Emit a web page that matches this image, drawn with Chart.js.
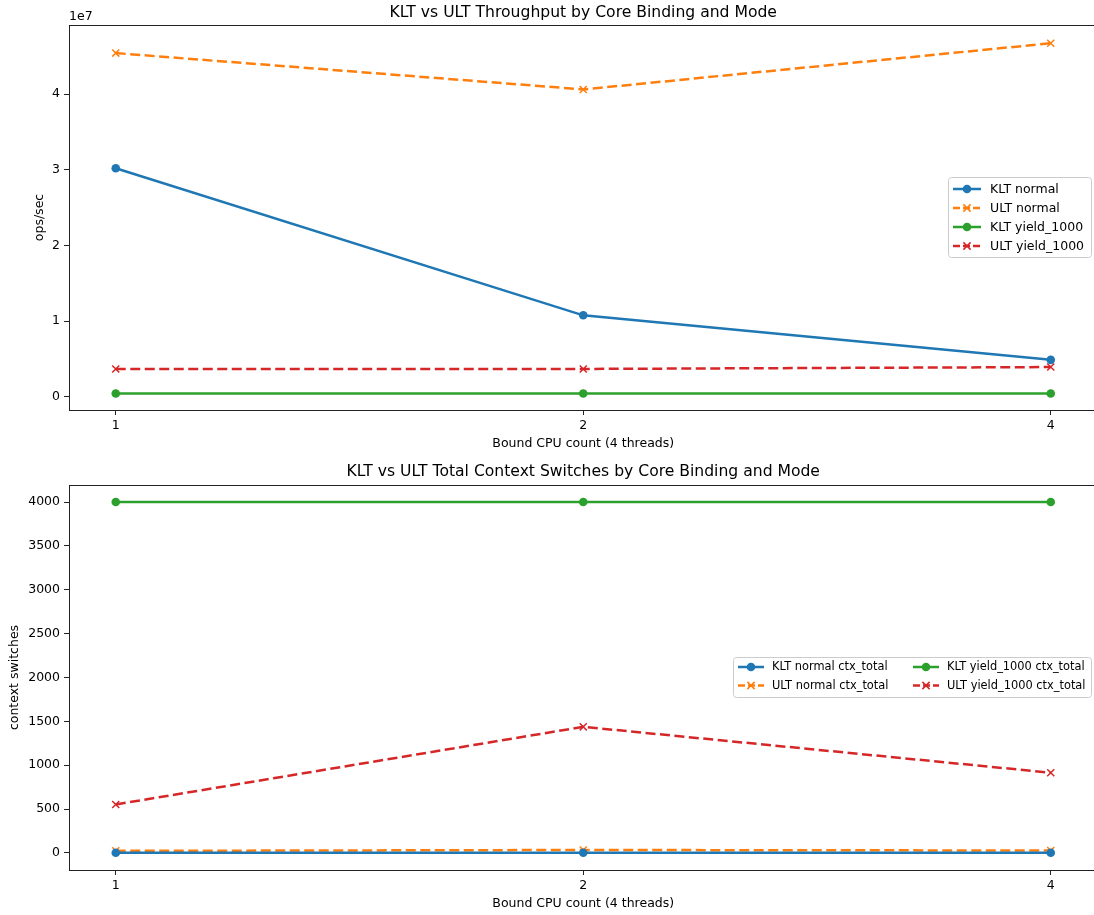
<!DOCTYPE html>
<html>
<head>
<meta charset="utf-8">
<script src="https://cdn.jsdelivr.net/npm/chart.js@4.4.1/dist/chart.umd.min.js"></script>
<style>
  html, body { margin: 0; padding: 0; background: #fff; overflow: hidden; }
  #wrap { position: relative; width: 1094px; height: 915px; overflow: hidden; }
  /* panes are a little wider than the page: the plot frame runs past its right edge */
  .pane { position: absolute; left: 0; width: 1104px; }
</style>
</head>
<body>
<div id="wrap">
  <div class="pane" style="top:0;height:457px"><canvas id="opsChart"></canvas></div>
  <div class="pane" style="top:457px;height:458px"><canvas id="ctxChart"></canvas></div>
</div>
<script>
// Bound CPU counts (x categories)
const cpuCounts = ['1', '2', '4'];

// Throughput (ops/sec)
const kltNormalOps = [3.02e7, 1.078e7, 0.49e7];
const ultNormalOps = [4.54e7, 4.06e7, 4.67e7];
const kltYieldOps  = [4.5e5, 4.5e5, 4.5e5];
const ultYieldOps  = [3.7e6, 3.7e6, 3.95e6];

// Total context switches
const kltNormalCtx = [3, 2, 3];
const ultNormalCtx = [24, 34, 28];
const kltYieldCtx  = [4000, 4000, 4000];
const ultYieldCtx  = [553, 1438, 915];

// Tick values
const opsTicks = [0, 1e7, 2e7, 3e7, 4e7];
const ctxTicks = [0, 500, 1000, 1500, 2000, 2500, 3000, 3500, 4000];

const BLUE = '#1f77b4', ORANGE = '#ff7f0e', GREEN = '#2ca02c', RED = '#d62728';
const FONT = 'DejaVu Sans';
const LW = 2.5;
const DASH = [10, 4.5];

function pts(arr) { return arr.map((v, i) => ({ x: i, y: v })); }

function series(label, values, color, marker) {
  const dashed = marker === 'x';
  return {
    label,
    data: pts(values),
    borderColor: color,
    backgroundColor: color,
    borderWidth: LW,
    borderDash: dashed ? DASH : [],
    borderCapStyle: 'butt',
    pointStyle: dashed ? 'crossRot' : 'circle',
    pointRadius: dashed ? 5 : 4.3,
    pointBorderWidth: dashed ? 1.5 : 0,
    pointBorderColor: color,
    pointBackgroundColor: color,
    pointHoverRadius: dashed ? 5 : 4.3,
    tension: 0,
    fill: false
  };
}

// Frame on all four sides of the plot area, title centred over it, optional offset text
const framePlugin = {
  id: 'frame',
  afterDraw(chart, args, opts) {
    const { ctx, chartArea: a } = chart;
    ctx.save();
    ctx.strokeStyle = '#222';
    ctx.lineWidth = 1;
    ctx.strokeRect(Math.round(a.left) + 0.5, Math.round(a.top) + 0.5,
                   Math.round(a.right - a.left) - 1, Math.round(a.bottom - a.top));
    ctx.fillStyle = '#000';
    if (opts.title) {
      ctx.font = '15.6px "' + FONT + '"';
      ctx.textAlign = 'center';
      ctx.textBaseline = 'middle';
      ctx.fillText(opts.title, (a.left + a.right) / 2, opts.titleY);
    }
    if (opts.offsetText) {
      ctx.font = '12.5px "' + FONT + '"';
      ctx.textAlign = 'left';
      ctx.textBaseline = 'bottom';
      ctx.fillText(opts.offsetText, a.left, a.top - 2);
    }
    ctx.restore();
  }
};

// Boxed legend drawn inside the plot area
const boxLegendPlugin = {
  id: 'boxLegend',
  afterDatasetsDraw(chart, args, o) {
    const ctx = chart.ctx;
    const ds = chart.data.datasets;
    ctx.save();
    ctx.font = o.fontSize + 'px "' + FONT + '"';
    const r = 3;
    const { x, y, w, h } = o.box;
    ctx.beginPath();
    ctx.moveTo(x + r, y);
    ctx.arcTo(x + w, y, x + w, y + h, r);
    ctx.arcTo(x + w, y + h, x, y + h, r);
    ctx.arcTo(x, y + h, x, y, r);
    ctx.arcTo(x, y, x + w, y, r);
    ctx.closePath();
    ctx.fillStyle = 'rgba(255,255,255,0.8)';
    ctx.fill();
    ctx.strokeStyle = '#cccccc';
    ctx.lineWidth = 1;
    ctx.stroke();
    ds.forEach((d, i) => {
      const col = Math.floor(i / o.rows);
      const row = i % o.rows;
      const ly = o.firstRowY + row * o.rowStep;
      const lx0 = o.colX[col];
      const lx1 = lx0 + o.lineLen;
      ctx.strokeStyle = d.borderColor;
      ctx.lineWidth = LW;
      ctx.lineCap = 'butt';
      ctx.setLineDash(d.borderDash.length ? [7, 3] : []);
      ctx.beginPath();
      ctx.moveTo(lx0, ly);
      ctx.lineTo(lx1, ly);
      ctx.stroke();
      ctx.setLineDash([]);
      const cx = (lx0 + lx1) / 2;
      if (d.pointStyle === 'circle') {
        ctx.fillStyle = d.borderColor;
        ctx.beginPath();
        ctx.arc(cx, ly, 4.3, 0, Math.PI * 2);
        ctx.fill();
      } else {
        const s = 3.6;
        ctx.lineWidth = 1.5;
        ctx.beginPath();
        ctx.moveTo(cx - s, ly - s); ctx.lineTo(cx + s, ly + s);
        ctx.moveTo(cx - s, ly + s); ctx.lineTo(cx + s, ly - s);
        ctx.stroke();
      }
      ctx.fillStyle = '#000';
      ctx.textAlign = 'left';
      ctx.textBaseline = 'middle';
      ctx.fillText(d.label, lx1 + o.textGap, ly + 0.5);
    });
    ctx.restore();
  }
};

function makeOptions(cfg) {
  return {
    responsive: true,
    maintainAspectRatio: false,
    animation: false,
    events: [],
    layout: { padding: { left: 0, right: 0, top: cfg.areaTop, bottom: 0 } },
    plugins: {
      legend: { display: false },
      tooltip: { enabled: false },
      title: { display: false },
      frame: { title: cfg.title, titleY: cfg.titleY, offsetText: cfg.offsetText || null },
      boxLegend: cfg.legend
    },
    scales: {
      x: {
        type: 'linear',
        min: -0.1,
        max: 2.1,
        afterBuildTicks(scale) { scale.ticks = [0, 1, 2].map(v => ({ value: v })); },
        afterFit(scale) {
          scale.height = cfg.xAxisHeight;
          scale.paddingLeft = 0;
          scale.paddingRight = 0;
        },
        ticks: {
          color: '#000',
          font: { family: FONT, size: 12.5 },
          padding: 3,
          maxRotation: 0,
          callback: (v) => cpuCounts[v]
        },
        grid: { drawOnChartArea: false, drawTicks: true, tickLength: 5, tickColor: '#222', tickWidth: 1 },
        border: { display: true, color: '#222', width: 1 },
        title: {
          display: true,
          text: 'Bound CPU count (4 threads)',
          color: '#000',
          font: { family: FONT, size: 12.5 },
          padding: { top: 0, bottom: cfg.xTitleBottom }
        }
      },
      y: {
        type: 'linear',
        min: cfg.yMin,
        max: cfg.yMax,
        afterBuildTicks(scale) { scale.ticks = cfg.yTicks.map(v => ({ value: v })); },
        afterFit(scale) {
          scale.width = 69;
          scale.paddingTop = 0;
          scale.paddingBottom = 0;
        },
        ticks: {
          color: '#000',
          font: { family: FONT, size: 12.5 },
          padding: 4,
          callback: cfg.yFormat
        },
        grid: { drawOnChartArea: false, drawTicks: true, tickLength: 5, tickColor: '#222', tickWidth: 1 },
        border: { display: true, color: '#222', width: 1 },
        title: {
          display: true,
          text: cfg.yTitle,
          color: '#000',
          font: { family: FONT, size: 12.5 },
          padding: { top: cfg.yTitlePad, bottom: 0 }
        }
      }
    }
  };
}

new Chart(document.getElementById('opsChart'), {
  type: 'line',
  data: {
    datasets: [
      series('KLT normal', kltNormalOps, BLUE, 'o'),
      series('ULT normal', ultNormalOps, ORANGE, 'x'),
      series('KLT yield_1000', kltYieldOps, GREEN, 'o'),
      series('ULT yield_1000', ultYieldOps, RED, 'x')
    ]
  },
  options: makeOptions({
    title: 'KLT vs ULT Throughput by Core Binding and Mode',
    titleY: 13, areaTop: 25,
    xAxisHeight: 47, xTitleBottom: 6,
    yMin: -0.172e7, yMax: 4.911e7, yTicks: opsTicks,
    yFormat: (v) => String(Math.round(v / 1e7)),
    yTitle: 'ops/sec', yTitlePad: 32,
    offsetText: '1e7',
    legend: {
      fontSize: 12.5,
      box: { x: 948.5, y: 177.5, w: 143, h: 80 },
      rows: 4, rowStep: 19, firstRowY: 189,
      colX: [953], lineLen: 28, textGap: 9
    }
  }),
  plugins: [framePlugin, boxLegendPlugin]
});

new Chart(document.getElementById('ctxChart'), {
  type: 'line',
  data: {
    datasets: [
      series('KLT normal ctx_total', kltNormalCtx, BLUE, 'o'),
      series('ULT normal ctx_total', ultNormalCtx, ORANGE, 'x'),
      series('KLT yield_1000 ctx_total', kltYieldCtx, GREEN, 'o'),
      series('ULT yield_1000 ctx_total', ultYieldCtx, RED, 'x')
    ]
  },
  options: makeOptions({
    title: 'KLT vs ULT Total Context Switches by Core Binding and Mode',
    titleY: 15, areaTop: 28,
    xAxisHeight: 45, xTitleBottom: 4,
    yMin: -194, yMax: 4194, yTicks: ctxTicks,
    yFormat: (v) => String(v),
    yTitle: 'context switches', yTitlePad: 7,
    legend: {
      fontSize: 11.4,
      box: { x: 733.5, y: 200.5, w: 358, h: 40 },
      rows: 2, rowStep: 18.5, firstRowY: 210,
      colX: [738, 913], lineLen: 26, textGap: 8
    }
  }),
  plugins: [framePlugin, boxLegendPlugin]
});
</script>
</body>
</html>
